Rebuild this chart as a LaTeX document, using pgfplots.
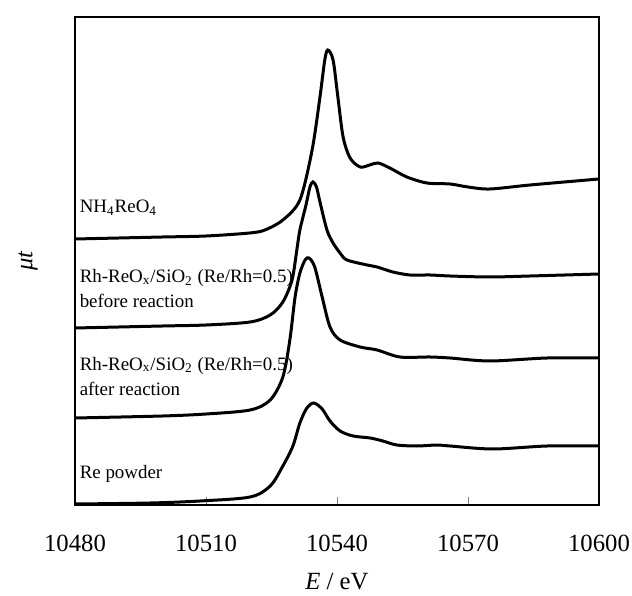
\documentclass[border=0pt]{standalone}
\usepackage{fontspec}
\setmainfont{Liberation Serif}
\usepackage{pgfplots}
\pgfplotsset{compat=1.18}
\usetikzlibrary{calc}
\tikzset{spec/.style={black, line width=1.5bp, smooth, tension=0.5, mark=none}}

\begin{document}
\begin{tikzpicture}
\begin{axis}[
  name=ax,
  scale only axis,
  width=262bp, height=244bp,
  xmin=10480, xmax=10600, ymin=0, ymax=488,
  xtick={10480,10510,10540,10570,10600},
  xticklabels={10480,10510,10540,10570,10600},
  ytick=\empty,
  xtick pos=bottom, tick align=inside,
  major tick length=4bp,
  axis line style={line width=0.6bp},
  xticklabel style={font=\fontsize{12.4}{14}\selectfont, anchor=center, yshift=-19bp},
  clip=false,
]
% NH4ReO4
\addplot[spec] coordinates {
(10480,266)(10490,267)(10500,268)(10510,269)(10520,272)(10523.5,275)(10527.6,285)
(10531.5,305)(10534.3,355)(10536.1,408)(10537.2,445)(10537.9,455)(10539.1,445)
(10540.2,408)(10541.4,368)(10543.0,347)(10545.3,338)(10547.5,340)(10549.4,342)
(10552.1,337)(10556.0,328)(10560.6,322)(10565.9,321)(10570,318)(10575,316)
(10584.2,320)(10600,326)};
% before reaction
\addplot[spec] coordinates {
(10480,177)(10500,179)(10510,180)(10520.1,183)(10524.7,190)(10527.6,203)(10529.7,225)
(10530.8,255)(10531.5,275)(10532.9,300)(10533.8,318)(10534.5,323)(10535.3,318)
(10536.1,303)(10537.7,275)(10539.1,262)(10540.7,252)(10542.3,245)(10546.9,240)
(10549.2,238)(10552.8,233)(10556.7,230)(10561.3,230)(10565.9,229)(10575,228)
(10584.2,229)(10600,231)};
% after reaction
\addplot[spec] coordinates {
(10480,87)(10500,89)(10510,91)(10520.1,95)(10524.7,105)(10527.6,128)(10529.2,165)
(10530.4,208)(10531.5,232)(10532.7,245)(10533.6,247)(10534.9,238)(10536.6,208)
(10538.4,178)(10540.7,165)(10545.3,158)(10549.2,155)(10554.4,148)(10561.3,148)
(10565.9,147)(10575,144)(10588.1,147)(10600,147)};
% Re powder
\addplot[spec] coordinates {
(10480,1)(10497.2,2)(10508.6,4)(10520.1,8)(10524.7,19)(10527.6,39)(10529.9,59)
(10531.5,82)(10533.1,97)(10534.7,102)(10536.6,96)(10538.4,84)(10540.7,74)
(10543.7,69)(10547.6,67)(10550.5,64)(10553.7,60)(10558.3,59)(10562.9,60)
(10565.9,59)(10575.7,56)(10588.1,59)(10600,59)};

\begin{scope}[every node/.style={anchor=base west, inner sep=0, font=\fontsize{9.5}{11}\selectfont}]
\node at (axis cs:10481,292) {NH\textsubscript{4}ReO\textsubscript{4}};
\node at (axis cs:10481,222) {Rh-ReO\textsubscript{x}/SiO\textsubscript{2} (Re/Rh=0.5)};
\node at (axis cs:10481,197) {before reaction};
\node at (axis cs:10481,135) {Rh-ReO\textsubscript{x}/SiO\textsubscript{2} (Re/Rh=0.5)};
\node at (axis cs:10481,110) {after reaction};
\node at (axis cs:10481,27) {Re powder};
\end{scope}
\end{axis}
\node[rotate=90, font=\fontsize{12.4}{14}\selectfont\itshape] at ($(ax.west)+(-23.5bp,0)$) {μt};
\node[font=\fontsize{12.4}{14}\selectfont] at ($(ax.south)+(0,-38.5bp)$) {\textit{E} / eV};
\pgfresetboundingbox
\path[use as bounding box] ($(ax.south west)+(-37.5bp,-45.5bp)$) rectangle ($(ax.north east)+(16.5bp,8.5bp)$);
\end{tikzpicture}
\end{document}
